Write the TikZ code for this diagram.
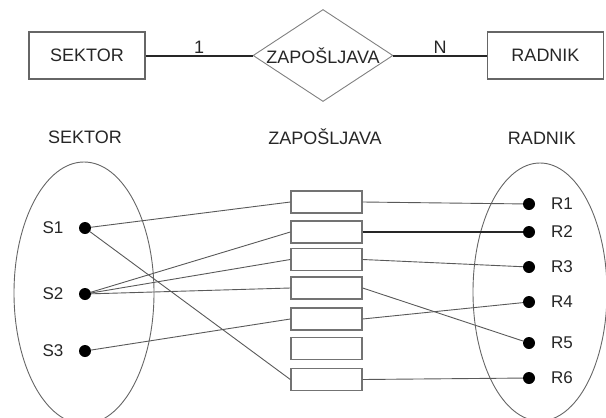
\documentclass[tikz,border=0pt]{standalone}
\usepackage{fontspec}
\setmainfont{Liberation Sans}
\usetikzlibrary{shapes.geometric}

\tikzset{
	lbl/.style={text=black!85,font=\fontsize{18}{20}\selectfont},
	small/.style={text=black!85,font=\fontsize{17}{19}\selectfont},
	entity/.style={lbl,draw=black!60,line width=1.3pt,minimum width=116pt,minimum height=47pt},
	relation/.style={diamond,draw=black!50,line width=0.9pt,minimum width=140pt,minimum height=92pt,inner sep=0pt},
	erline/.style={line width=2pt,black!85},
	zbox/.style={draw=black!55,line width=1.3pt,minimum width=71pt,minimum height=22pt,inner sep=0pt},
	dot/.style={circle,fill=black,inner sep=0pt,minimum size=12pt},
	conn/.style={black!65,line width=0.9pt},
	setline/.style={ellipse,draw=black!60,line width=0.9pt,inner sep=0pt},
}

\begin{document}
\begin{tikzpicture}[x=1pt,y=-1pt]
	\useasboundingbox (0,0) rectangle (606,418);
	% ER model
	\node[entity] (sektor) at (87,55.5) {SEKTOR};
	\node[relation] (zap) at (323,55.5) {};
	\node[lbl] (zaptext) at (zap) {ZAPOŠLJAVA};
	\node[entity] (radnik) at (545.5,55.5) {RADNIK};
	\draw[erline] (sektor) -- node[lbl,above,inner sep=1pt] (one) {1} (zap);
	\draw[erline] (zap) -- node[lbl,above,inner sep=1pt] (many) {N} (radnik);
	% sets
	\node[lbl] (hsektor) at (85,137) {SEKTOR};
	\node[lbl] (hzap) at (325,137) {ZAPOŠLJAVA};
	\node[lbl] (hradnik) at (542,138) {RADNIK};
	\node[setline,minimum width=140pt,minimum height=262pt] (sset) at (84,293) {};
	\node[setline,minimum width=134pt,minimum height=258pt] (rset) at (540,292) {};
	\node[dot] (s1) at (85,228) {};
	\node[dot] (s2) at (85,294) {};
	\node[dot] (s3) at (85,351) {};
	\node[small] (ls1) at (53,228) {S1};
	\node[small] (ls2) at (53,294) {S2};
	\node[small] (ls3) at (53,351) {S3};
	\node[dot] (r1) at (529,204) {};
	\node[dot] (r2) at (529,232) {};
	\node[dot] (r3) at (529,267) {};
	\node[dot] (r4) at (529,302) {};
	\node[dot] (r5) at (529,343) {};
	\node[dot] (r6) at (529,378) {};
	\node[small] (lr1) at (562,204) {R1};
	\node[small] (lr2) at (562,232) {R2};
	\node[small] (lr3) at (562,267) {R3};
	\node[small] (lr4) at (562,302) {R4};
	\node[small] (lr5) at (562,343) {R5};
	\node[small] (lr6) at (562,378) {R6};
	\node[zbox] (z1) at (326.5,202) {};
	\node[zbox] (z2) at (326.5,232) {};
	\node[zbox] (z3) at (326.5,259.5) {};
	\node[zbox] (z4) at (326.5,288) {};
	\node[zbox] (z5) at (326.5,319) {};
	\node[zbox] (z6) at (326.5,348.5) {};
	\node[zbox] (z7) at (326.5,379.5) {};
	% pairs
	\draw[conn] (s1) -- (z1.west);
	\draw[conn] (s1) -- (z7.west);
	\draw[conn] (s2) -- (z2.west);
	\draw[conn] (s2) -- (z3.west);
	\draw[conn] (s2) -- (z4.west);
	\draw[conn] (s3) -- (z5.west);
	\draw[conn] (z1.east) -- (r1);
	\draw[erline] (z2.east) -- (r2);
	\draw[conn] (z3.east) -- (r3);
	\draw[conn] (z4.east) -- (r5);
	\draw[conn] (z5.east) -- (r4);
	\draw[conn] (z7.east) -- (r6);
\end{tikzpicture}
\end{document}
